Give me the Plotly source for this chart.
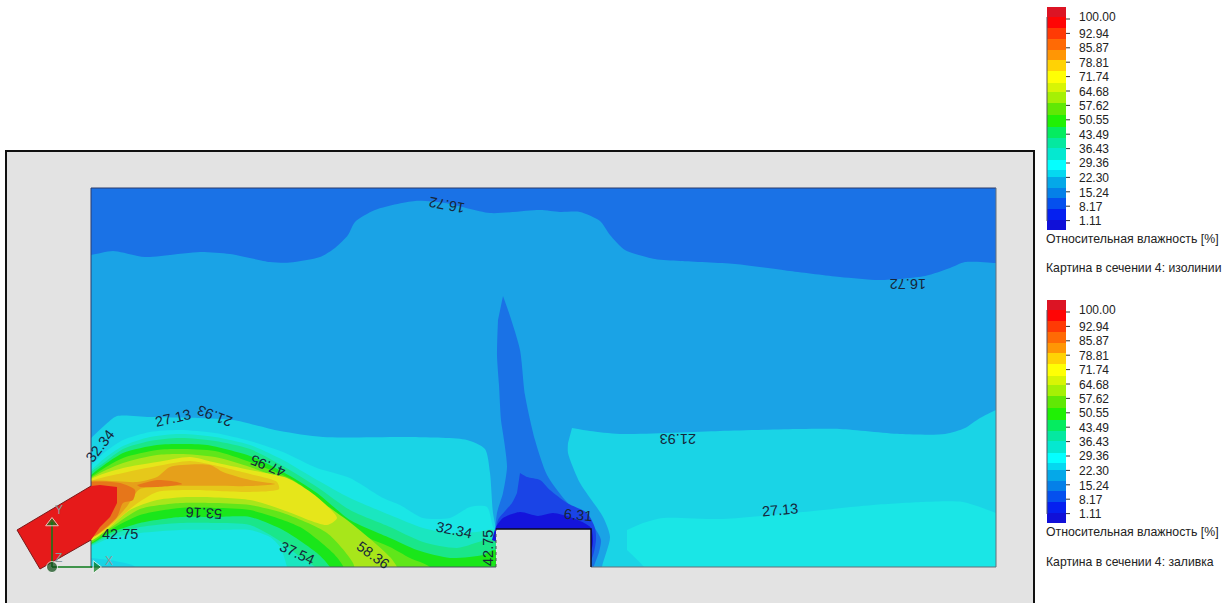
import plotly.graph_objects as go

LEVELS = ["100.00","92.94","85.87","78.81","71.74","64.68","57.62","50.55","43.49","36.43","29.36","22.30","15.24","8.17","1.11"]
LABEL_Y = [18,35,49,63.5,78,92.5,107,121,135.5,150,164,179,193.5,207.5,222]
TICK_Y = [19,33.4,47.8,62.2,76.6,91,105.4,119.8,134.2,148.6,163,177.4,191.8,206.2,220.6]
LEGEND_TITLE = "Относительная влажность [%]"
CAPTIONS = ["Картина в сечении 4: изолинии", "Картина в сечении 4: заливка"]
LEGEND_COLORS = ["#dc1424","#ff0505","#ff3a05","#ff6a05","#ff9605","#ffd205","#ffff05","#d8f505","#a5f005","#60e805","#20f005",
                 "#05ec60","#05e8a0","#05e8d0","#05ffff","#05d8f0","#05a8e8","#0580e8","#0550ee","#0520f0","#1010d8"]
LEGEND_EDGES = [7,17,28,39,50,60,71,83,92,103,115,127,138,148,160,170,177,188,198,209,220,230]

DOMAIN = [(91,188),(996,188),(996,567),(91,567)]
MASK_TOP = [(6,151),(1034,151),(1034,188),(6,188)]
MASK_LEFT = [(6,151),(91,151),(91,603),(6,603)]
MASK_RIGHT = [(996,151),(1034,151),(1034,603),(996,603)]
MASK_BOTTOM = [(6,567),(1034,567),(1034,603),(6,603)]
MASK_NOTCH = [(496,529),(591,529),(591,567),(496,567)]

TOP_BAND = [(70,172),(200,172),(350,172),(500,172),(650,172),(800,172),(950,172),(1020,172),(1020,264),(996,263),(965,262),(950,268),(925,276),(880,280),(840,277),(790,271),(735,264),(680,261),(655,259),(625,250),(610,235),(600,221),(580,212),(560,212),(540,210),(490,213),(445,203),(415,201),(375,210),(355,222),(348,235),(335,248),(320,257),(290,262.5),(270,262),(230,254),(200,252),(145,257),(113,251),(91,255),(70,258)]
RIGHT_22 = [(572,428),(590,431),(620,434),(720,431),(800,429),(840,429),(900,434),(945,434),(965,428),(980,418),(996,410),(1020,400),(1020,590),(600,590),(602,567),(610,537),(603,517),(580,483),(568,453),(568,443)]
RIGHT_29 = [(627,530),(643,523),(663,518),(723,519),(803,512),(873,505),(923,502),(963,502),(996,513),(1020,522),(1020,590),(660,590),(644,567),(627,550)]
LEFT_22 = [(70,455),(91,438),(105,425),(117,416),(150,417),(200,418),(233,420),(280,431),(323,437),(413,437),(467,440),(485,449),(490,473),(493,513),(496,528),(510,590),(70,590)]
BAND_29 = [(70,480),(91,465),(105,452),(123,440),(150,432),(180,430),(215,433),(250,441),(283,452),(317,468),(350,478),(383,498),(400,505),(423,518),(450,518),(470,507),(487,507),(493,527),(500,540),(510,590),(135,590),(135,567),(115,561),(91,558),(70,556)]
BAND_36 = [(70,485),(91,470),(105,458),(123,446),(150,437),(180,434),(215,437),(250,445),(283,460),(317,480),(350,498),(390,515),(423,528),(450,533),(477,532),(495,530),(510,590),(290,590),(287,567),(280,547),(270,537),(250,530),(215,530),(180,530),(140,533),(110,538),(91,546),(70,552)]
BAND_43 = [(70,490),(91,472),(105,462),(123,449),(150,441),(180,438),(215,441),(250,449),(283,466),(317,487),(350,510),(390,527),(423,542),(457,548),(495,540),(510,590),(325,590),(315,567),(300,557),(283,543),(250,525),(215,523),(180,523),(140,527),(110,535),(91,545),(70,551)]
BAND_50 = [(70,495),(91,475),(123,453),(157,445),(180,444),(207,445),(250,456),(283,472),(317,493),(350,520),(390,538),(417,550),(450,558),(483,555),(495,550),(510,590),(340,590),(330,567),(317,553),(283,530),(250,517),(215,517),(180,517),(140,523),(110,533),(91,544),(70,550)]
BAND_57 = [(70,497),(91,477),(123,458),(157,450),(180,449),(215,451),(250,462),(293,480),(333,510),(367,537),(390,547),(410,558),(430,567),(445,590),(350,590),(343,566),(333,553),(300,527),(250,510),(215,508),(180,508),(140,515),(110,530),(91,543),(70,549)]
BAND_64 = [(70,498),(91,478),(123,463),(157,455),(180,454),(215,457),(250,467),(290,483),(347,520),(390,557),(397,567),(405,590),(360,590),(353,563),(327,533),(283,513),(250,505),(215,503),(180,503),(140,509),(112,527),(91,541),(70,548)]
BAND_71 = [(70,499),(91,479),(123,468),(157,462),(190,457),(213,462),(250,470),(287,478),(300,485),(317,497),(337,518),(327,525),(283,510),(250,500),(190,497),(157,500),(130,510),(110,527),(91,541),(70,548)]
BAND_78 = [(70,495),(91,481),(123,473),(157,466),(190,461),(213,465),(250,474),(277,482),(279,489),(250,492),(190,490),(157,492),(135,505),(115,522),(95,536),(70,546)]
BAND_85 = [(70,490),(91,481),(137,482),(157,477),(170,467),(210,465),(223,472),(250,480),(275,484),(250,486),(173,486),(140,489),(133,497),(128,505),(115,520),(97,535),(70,542)]
BAND_92_A = [(70,490),(91,482),(120,483),(135,490),(133,500),(123,503),(117,517),(103,530),(91,538),(70,542)]
BAND_92_B = [(137,485),(157,480),(177,482),(182,484),(157,487),(140,487)]
INLET = [(17,530),(91,486),(100,485),(117,487),(117,503),(110,517),(100,527),(91,540),(40,569)]
PLUME_8 = [(503,296),(510,316),(520,350),(525,395),(535,440),(547,475),(565,500),(585,520),(596,530),(601,540),(599,552),(595,563),(592,570),(560,590),(520,590),(496,535),(497,513),(503,493),(507,467),(504,440),(501,420),(499,385),(497,355),(498,320)]
CORE_8 = [(520,473),(527,477),(540,480),(550,490),(567,503),(587,513),(595,528),(596,540),(592,558),(570,585),(520,585),(496,535),(498,520),(512,503),(517,493)]
CORE_1 = [(492,540),(496,527),(503,518),(520,512),(538,516),(553,513),(573,518),(591,528),(591,550),(540,560)]

SMOOTH_POLYS = [
    (TOP_BAND,"#1a72e6"),(RIGHT_22,"#1ad4e6"),(RIGHT_29,"#1ae6e6"),
    (LEFT_22,"#1ad4e6"),(BAND_29,"#1ae6e6"),(BAND_36,"#1ae6c0"),(BAND_43,"#1ae68a"),(BAND_50,"#1ae61a"),
    (BAND_57,"#60e61a"),(BAND_64,"#a8e61a"),(BAND_71,"#e6e61a"),(BAND_78,"#e6c81a"),
    (BAND_85,"#e6a01a"),(BAND_92_A,"#e6761a"),(BAND_92_B,"#e6761a"),
    (PLUME_8,"#1a72e6"),(CORE_8,"#1a44e6"),(CORE_1,"#1414dc"),
]
MASKS = [MASK_TOP, MASK_LEFT, MASK_RIGHT, MASK_BOTTOM, MASK_NOTCH]

CONTOUR_LABELS = [
    ("16.72",447,205,-169),("16.72",908,284,180),("21.93",678,439,180),("27.13",780,510,-5),
    ("27.13",173,418,-13),("21.93",215,416,-159),("32.34",100,446,-52),("42.75",120,534,0),
    ("47.95",268,466,-158),("53.16",204,513,-177),("37.54",297,553,25),("58.36",373,555,36),
    ("32.34",454,530,12),("42.75",488,548,-90),("6.31",578,515,5),
]

fig = go.Figure()

def poly(pts, color, shape="linear"):
    ln = dict(width=0, shape=shape)
    if shape == "spline":
        ln["smoothing"] = 0.7
    fig.add_trace(go.Scatter(x=[p[0] for p in pts], y=[p[1] for p in pts], mode="lines", fill="toself",
                             fillcolor=color, line=ln, hoverinfo="skip", showlegend=False))

def line(pts, color, width=1, dash=None):
    fig.add_trace(go.Scatter(x=[p[0] for p in pts], y=[p[1] for p in pts], mode="lines",
                             line=dict(color=color, width=width, dash=dash), hoverinfo="skip", showlegend=False))

poly(DOMAIN, "#1aa3e6")
for pts, color in SMOOTH_POLYS:
    poly(pts, color, "spline")
for pts in MASKS:
    poly(pts, "#e3e3e3")
poly(INLET, "#e61a1a")

line([(6,603),(6,151),(1034,151),(1034,603)], "#111111", 2)
line([(91,486),(91,188),(996,188)], "#2a3a6a", 1)
line([(996,188),(996,567),(591,567)], "#66707a", 1)
line([(91,540),(91,567),(496,567)], "#4a5560", 1)
line([(496,567),(496,529)], "#555555", 1, "dot")
line([(496,529),(591,529),(591,567)], "#0a0a20", 1.5)
line([(91,486),(17,530),(40,569),(91,540)], "#7a1a1a", 1)

# coordinate triad
line([(52,567),(52,522)], "#0a7a1a", 1.5)
line([(52,567),(92,567)], "#0a7a1a", 1.5)
fig.add_trace(go.Scatter(x=[52,96,52], y=[523,567,567], mode="markers",
                         marker=dict(symbol=["triangle-up","triangle-right","circle"], size=[11,11,11],
                                     color=["#0a7a1a","#0a7a1a","#0b4a14"]),
                         hoverinfo="skip", showlegend=False))

ann = []
for t, x, y, a in CONTOUR_LABELS:
    ann.append(dict(x=x, y=y, text=t, textangle=a, showarrow=False, xref="x", yref="y",
                    font=dict(family="Liberation Sans", size=14.5, color="#16263a")))
for t, x, y in [("Y",59,510),("X",109,561),("Z",58,558)]:
    ann.append(dict(x=x, y=y, text=t, showarrow=False, xref="x", yref="y",
                    font=dict(family="Liberation Sans", size=12, color="#8a9a9a")))

for k, off in enumerate([0, 293]):
    fig.add_trace(go.Bar(x=[1056.5]*len(LEGEND_COLORS),
                         y=[LEGEND_EDGES[i+1]-LEGEND_EDGES[i] for i in range(len(LEGEND_COLORS))],
                         base=[e+off for e in LEGEND_EDGES[:-1]], width=19,
                         marker=dict(color=LEGEND_COLORS, line=dict(width=0)), hoverinfo="skip", showlegend=False))
    tx, tyy = [], []
    for v in TICK_Y:
        tx += [1066,1070,None]; tyy += [v+off,v+off,None]
    fig.add_trace(go.Scatter(x=tx, y=tyy, mode="lines", line=dict(color="#333333", width=1), hoverinfo="skip", showlegend=False))
    fig.add_trace(go.Scatter(x=[1079]*len(LEVELS), y=[v+off for v in LABEL_Y], mode="text", text=LEVELS, textposition="middle right",
                             textfont=dict(family="Liberation Sans", size=12, color="#222222"), hoverinfo="skip", showlegend=False))
    line([(1047,17+off),(1047,221+off)], "#555566", 1)
    ann.append(dict(x=1044, y=239+off, text=LEGEND_TITLE, showarrow=False, xanchor="left", xref="x", yref="y",
                    font=dict(family="Liberation Sans", size=12.3, color="#222222")))
    ann.append(dict(x=1044, y=[268,562][k], text=CAPTIONS[k], showarrow=False, xanchor="left", xref="x", yref="y",
                    font=dict(family="Liberation Sans", size=12.2, color="#222222")))

fig.update_layout(width=1228, height=603, margin=dict(l=0,r=0,t=0,b=0), paper_bgcolor="white", plot_bgcolor="white",
                  barmode="overlay", annotations=ann,
                  xaxis=dict(range=[0,1228], visible=False, fixedrange=True),
                  yaxis=dict(range=[603,0], visible=False, fixedrange=True))
fig.write_html("out.html", config={"displayModeBar":False},
               post_script="document.body.style.margin='0';document.documentElement.style.overflow='hidden';")
